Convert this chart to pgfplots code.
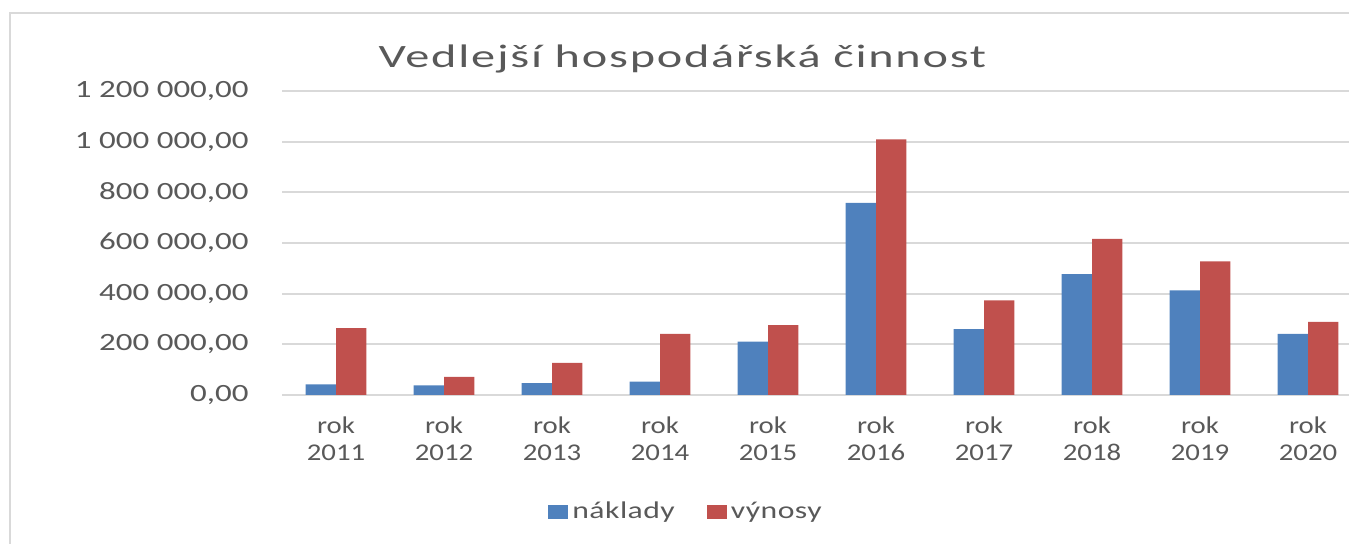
\documentclass[border=0pt]{standalone}
\usepackage{pgfplots}
\pgfplotsset{compat=1.18}
\usepackage{fontspec}
\setmainfont{Carlito}[FakeStretch=1.2]
\newfontfamily\titlefont{Carlito}[FakeStretch=1.48,LetterSpace=5.5]
\newfontfamily\legfont{Carlito}[FakeStretch=1.32,LetterSpace=2]
\newfontfamily\yfont{Carlito}[FakeStretch=1.33]
\definecolor{cblue}{HTML}{4F81BD}
\definecolor{cred}{HTML}{C0504D}
\definecolor{tgray}{HTML}{595959}
\definecolor{ggray}{HTML}{D9D9D9}
\begin{document}
\begin{tikzpicture}
\useasboundingbox (0,0) rectangle (674.5pt,-272pt);
\clip (0,0) rectangle (674.5pt,-272pt);
\draw[ggray, line width=1.2pt] (5pt,-272pt) -- (5pt,-6.5pt) -- (674.5pt,-6.5pt);
\begin{axis}[
  at={(141pt,-197.5pt)}, anchor=south west,
  width=540pt, height=152pt, scale only axis,
  ybar=0pt, bar width=15.15pt,
  xmin=-0.5, xmax=9.5, ymin=0, ymax=1200000,
  xtick={0,...,9},
  xticklabels={{rok\\2011},{rok\\2012},{rok\\2013},{rok\\2014},{rok\\2015},{rok\\2016},{rok\\2017},{rok\\2018},{rok\\2019},{rok\\2020}},
  ytick={0,200000,400000,600000,800000,1000000,1200000},
  yticklabels={{0,00},{200 000,00},{400 000,00},{600 000,00},{800 000,00},{1 000 000,00},{1 200 000,00}},
  scaled y ticks=false,
  axis line style={draw=none},
  major tick length=0pt,
  ymajorgrids, grid style={ggray, line width=0.9pt},
  xticklabel style={align=center, font=\fontsize{12}{13.5}\selectfont, text=tgray, inner sep=0pt, anchor=north},
  xticklabel shift=10.7pt,
  yticklabel style={font=\yfont\fontsize{12.4}{14}\selectfont, text=tgray, inner sep=0pt, anchor=east},
  yticklabel shift=16.5pt,
  legend style={at={(axis description cs:0.375,-0.385)}, anchor=center, draw=none, fill=none,
    legend columns=2, font=\legfont\fontsize{12}{14}\selectfont, text=tgray,
    /tikz/every even column/.append style={column sep=14pt}},
  legend image code/.code={\fill[#1] (0pt,-3.35pt) rectangle (10pt,3.35pt);},
]
\addplot[fill=cblue, draw=none] coordinates {(0,42000) (1,38000) (2,47000) (3,53000) (4,211000) (5,758000) (6,260000) (7,477000) (8,413000) (9,241000)};
\addplot[fill=cred, draw=none] coordinates {(0,264000) (1,72000) (2,127000) (3,241000) (4,276000) (5,1009000) (6,374000) (7,616000) (8,527000) (9,289000)};
\legend{náklady, výnosy}
\end{axis}
\node[font=\titlefont\fontsize{16.3}{18}\selectfont, text=tgray, anchor=base] at (341.25pt,-34pt) {Vedlejší hospodářská činnost};
\end{tikzpicture}
\end{document}
